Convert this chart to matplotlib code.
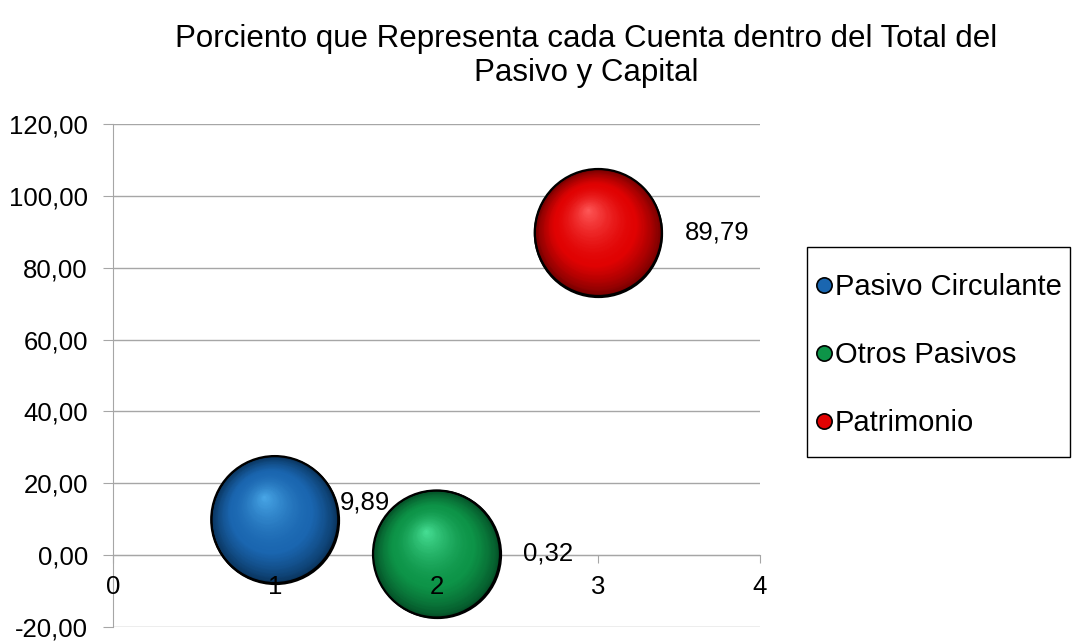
import numpy as np
import matplotlib
matplotlib.use("Agg")
import matplotlib.pyplot as plt
import matplotlib.transforms as mtransforms
from matplotlib.colors import to_rgb
from matplotlib.lines import Line2D
from matplotlib.patches import Rectangle

plt.rcParams['font.family'] = ['Liberation Sans', 'DejaVu Sans']

# data
series = ['Pasivo Circulante', 'Otros Pasivos', 'Patrimonio']
x_vals = [1, 2, 3]
y_vals = [9.89, 0.32, 89.79]
labels = ['9,89', '0,32', '89,79']
y_ticks = [-20, 0, 20, 40, 60, 80, 100, 120]
x_ticks = [0, 1, 2, 3, 4]

# (dark, base, highlight)
shades = [('#082f55', '#1a66b0', '#4aa8e8'),
          ('#034a24', '#0d9448', '#48e096'),
          ('#6a0000', '#e00202', '#ff5a5a')]

fig = plt.figure(figsize=(10.72, 6.42), dpi=100)
ax = fig.add_axes([0.1054, 0.0234, 0.6036, 0.7835])
ax.set_xlim(0, 4)
ax.set_ylim(-20, 120)

grid_c = '#a6a6a6'
ax.set_yticks(y_ticks)
ax.set_yticklabels([f'{v:.2f}'.replace('.', ',') for v in y_ticks])
ax.set_xticks(x_ticks)
ax.set_xticklabels([])
ax.yaxis.grid(True, color=grid_c, linewidth=1)
ax.set_axisbelow(True)
for s in ['top', 'right']:
    ax.spines[s].set_visible(False)
ax.spines['left'].set_color(grid_c)
ax.spines['bottom'].set_color(grid_c)
ax.spines['bottom'].set_position(('data', 0))
ax.tick_params(axis='y', direction='out', length=7, color=grid_c, labelsize=18.5, pad=11)
ax.tick_params(axis='x', direction='out', length=6, color=grid_c)

# x tick labels drawn above the bubbles
for v in x_ticks:
    ax.annotate(str(v), (v, 0), xytext=(0, -23), textcoords='offset points',
                ha='center', va='center', fontsize=18.5, zorder=21)

# bubbles with layered shading
R = 63.5 / 100 * 72  # radius in points
hx, hy = -0.17, 0.36
n_layers = 80
for i in range(3):
    dark, base, hi = [np.array(to_rgb(c)) for c in shades[i]]
    ax.scatter([x_vals[i]], [y_vals[i]], s=(2 * R) ** 2, color=dark,
               edgecolors='black', linewidths=1.6, zorder=5)
    for k in range(1, n_layers):
        t = k / n_layers
        if t < 0.35:
            col = dark + (base - dark) * (t / 0.35) ** 0.7
        else:
            col = base + (hi - base) * ((t - 0.35) / 0.65) ** 1.6
        r = R * (1 - t)
        dx = hx * R * t / 72
        dy = hy * R * t / 72
        tr = ax.transData + mtransforms.ScaledTranslation(dx, dy, fig.dpi_scale_trans)
        ax.scatter([x_vals[i]], [y_vals[i]], s=(2 * r) ** 2, color=col,
                   linewidths=0, transform=tr, zorder=6)
    ax.scatter([x_vals[i]], [y_vals[i]], s=(2 * R) ** 2, facecolors='none',
               edgecolors='black', linewidths=1.6, zorder=7)

# data labels
offsets = [(47, 12), (62, 0), (62, 0)]
for i in range(3):
    ax.annotate(labels[i], (x_vals[i], y_vals[i]), xytext=offsets[i],
                textcoords='offset points', fontsize=18.5, va='center', ha='left', zorder=21)

fig.text(0.547, 0.963, 'Porciento que Representa cada Cuenta dentro del Total del\nPasivo y Capital',
         ha='center', va='top', fontsize=22.5, linespacing=1.2)

handles = [Line2D([], [], marker='o', linestyle='none', markersize=11,
                  markerfacecolor=shades[i][1], markeredgecolor='black', markeredgewidth=1.2)
           for i in range(3)]
fig.legend(handles, series, loc='center left', bbox_to_anchor=(0.7528, 0.447),
           fontsize=21, frameon=False, labelspacing=1.38, handlelength=0.55,
           handletextpad=0.1, borderpad=0.3, borderaxespad=0)
fig.add_artist(Rectangle((807 / 1072, 185 / 642), 263 / 1072, 210 / 642,
                         transform=fig.transFigure, fill=False, edgecolor='black', linewidth=1))

fig.savefig('out.png', dpi=100)
